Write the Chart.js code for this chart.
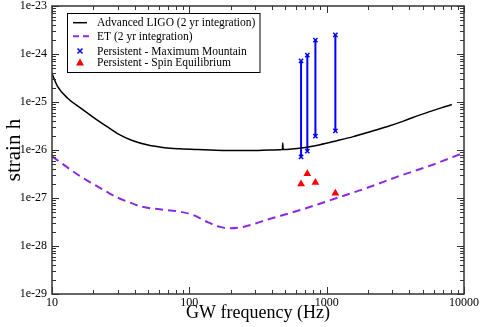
<!DOCTYPE html>
<html>
<head>
<meta charset="utf-8">
<script src="https://cdn.jsdelivr.net/npm/chart.js@4.4.0/dist/chart.umd.min.js"></script>
<style>
    html, body { margin: 0; padding: 0; background: #ffffff; }
    #strainChart { display: block; }
</style>
</head>
<body>
<canvas id="strainChart" width="480" height="327"></canvas>
<script>
// Advanced LIGO sensitivity curve (2 yr integration)
const ligoFreq = [10, 11, 13, 16, 20, 25, 30, 38, 50, 66, 85, 115, 177, 300, 387, 476, 479, 482, 677, 895, 1184, 1564, 2070, 2740, 3625, 4790, 8150];
const ligoStrain = [3.9e-25, 2.1e-25, 1.2e-25, 7.6e-26, 4.8e-26, 3.1e-26, 2.2e-26, 1.6e-26, 1.27e-26, 1.12e-26, 1.06e-26, 1.02e-26, 9.8e-27, 9.8e-27, 1.0e-26, 1.02e-26, 1.4e-26, 1.03e-26, 1.12e-26, 1.29e-26, 1.56e-26, 1.9e-26, 2.4e-26, 3.06e-26, 4.0e-26, 5.4e-26, 8.9e-26];

// Einstein Telescope sensitivity curve (2 yr integration)
const etFreq = [10, 13, 16, 20, 25, 30, 38, 44, 61, 85, 107, 134, 167, 198, 247, 366, 716, 1184, 2000, 3240, 6000, 10000];
const etStrain = [7.4e-27, 4.3e-27, 2.85e-27, 1.95e-27, 1.35e-27, 1.02e-27, 7.8e-28, 6.7e-28, 5.8e-28, 5.2e-28, 4.4e-28, 3.2e-28, 2.5e-28, 2.34e-28, 2.5e-28, 3.5e-28, 6.2e-28, 1.0e-27, 1.65e-27, 2.75e-27, 5.0e-27, 8.8e-27];

// Persistent sources
const pulsarFreq = [651, 723, 828, 1157];
const mountainUpper = [7.2e-25, 9.5e-25, 1.95e-24, 2.5e-24];
const mountainLower = [7.2e-27, 9.5e-27, 1.95e-26, 2.5e-26];
const spinEquilibrium = [1.95e-27, 3.2e-27, 2.1e-27, 1.25e-27];

// Axis labels
const xTickLabels = ['10', '100', '1000', '10000'];
const yTickLabels = ['1e-29', '1e-28', '1e-27', '1e-26', '1e-25', '1e-24', '1e-23'];
const legendLabels = ['Advanced LIGO (2 yr integration)', 'ET (2 yr integration)', 'Persistent - Maximum Mountain', 'Persistent - Spin Equilibrium'];

const serif = "'Liberation Serif', 'Times New Roman', serif";

function toPoints(xs, ys) {
    return xs.map((x, i) => ({ x: x, y: ys[i] }));
}

// ticks at 1..9 x 10^n for a log axis
function logTicks(min, max) {
    const ticks = [];
    for (let e = Math.round(Math.log10(min)); e < Math.round(Math.log10(max)); e++) {
        for (let m = 1; m < 10; m++) {
            ticks.push({ value: m * Math.pow(10, e) });
        }
    }
    ticks.push({ value: max });
    return ticks;
}

function isMajor(v) {
    const l = Math.log10(v);
    return Math.abs(l - Math.round(l)) < 1e-6;
}

function labelFor(value, labels) {
    const hit = labels.find(l => Math.abs(Math.log10(Number(l)) - Math.log10(value)) < 1e-6);
    return hit === undefined ? '' : hit;
}

// frame, inward ticks on all four sides and the boxed legend
const framePlugin = {
    id: 'frame',
    afterDraw(chart) {
        const ctx = chart.ctx;
        const a = chart.chartArea;
        const xs = chart.scales.x;
        const ys = chart.scales.y;
        ctx.save();
        ctx.strokeStyle = '#333333';
        ctx.lineWidth = 1.5;
        ctx.strokeRect(a.left, a.top, a.right - a.left, a.bottom - a.top);

        ctx.lineWidth = 1;
        ctx.beginPath();
        xs.ticks.forEach(t => {
            const len = isMajor(t.value) ? 7 : 4;
            const p = Math.round(xs.getPixelForValue(t.value)) + 0.5;
            ctx.moveTo(p, a.bottom); ctx.lineTo(p, a.bottom - len);
            ctx.moveTo(p, a.top); ctx.lineTo(p, a.top + len);
        });
        ys.ticks.forEach(t => {
            const len = isMajor(t.value) ? 7 : 4;
            const p = Math.round(ys.getPixelForValue(t.value)) + 0.5;
            ctx.moveTo(a.left, p); ctx.lineTo(a.left + len, p);
            ctx.moveTo(a.right, p); ctx.lineTo(a.right - len, p);
        });
        ctx.stroke();

        // legend box
        const bx = 67.5, by = 13.5, bw = 192.5, bh = 59;
        ctx.fillStyle = '#ffffff';
        ctx.fillRect(bx, by, bw, bh);
        ctx.strokeStyle = '#000000';
        ctx.lineWidth = 1;
        ctx.strokeRect(bx, by, bw, bh);

        const rows = [22.7, 36.3, 51, 62.5];
        const sx0 = 73, sx1 = 87, mx = 80;

        ctx.lineWidth = 1.5;
        ctx.strokeStyle = '#000000';
        ctx.beginPath(); ctx.moveTo(sx0, rows[0]); ctx.lineTo(sx1, rows[0]); ctx.stroke();

        ctx.lineWidth = 2;
        ctx.strokeStyle = '#8a2be2';
        ctx.setLineDash([6, 4]);
        ctx.beginPath(); ctx.moveTo(sx0, rows[1]); ctx.lineTo(sx1 + 2, rows[1]); ctx.stroke();
        ctx.setLineDash([]);

        ctx.lineWidth = 1.5;
        ctx.strokeStyle = '#0000ff';
        ctx.beginPath();
        ctx.moveTo(mx - 2.5, rows[2] - 2.5); ctx.lineTo(mx + 2.5, rows[2] + 2.5);
        ctx.moveTo(mx + 2.5, rows[2] - 2.5); ctx.lineTo(mx - 2.5, rows[2] + 2.5);
        ctx.stroke();

        ctx.fillStyle = '#ff0000';
        ctx.beginPath();
        ctx.moveTo(mx, rows[3] - 4); ctx.lineTo(mx + 4, rows[3] + 3); ctx.lineTo(mx - 4, rows[3] + 3);
        ctx.closePath(); ctx.fill();

        ctx.fillStyle = '#000000';
        ctx.font = '11.5px ' + serif;
        ctx.textBaseline = 'middle';
        ctx.textAlign = 'left';
        legendLabels.forEach((txt, i) => ctx.fillText(txt, 97, rows[i] + 0.5));
        ctx.restore();
    }
};

document.addEventListener("DOMContentLoaded", function () {

    const datasets = [
        {
            label: legendLabels[0],
            data: toPoints(ligoFreq, ligoStrain),
            borderColor: '#000000',
            borderWidth: 1.5,
            pointRadius: 0,
            showLine: true,
            cubicInterpolationMode: 'monotone',
            fill: false
        },
        {
            label: legendLabels[1],
            data: toPoints(etFreq, etStrain),
            borderColor: '#8a2be2',
            borderWidth: 2,
            borderDash: [8, 5],
            pointRadius: 0,
            showLine: true,
            cubicInterpolationMode: 'monotone',
            fill: false
        }
    ];

    // one vertical bar per pulsar, upper and lower mountain limits
    pulsarFreq.forEach((f, i) => {
        datasets.push({
            label: legendLabels[2],
            data: [{ x: f, y: mountainLower[i] }, { x: f, y: mountainUpper[i] }],
            borderColor: '#0000ff',
            backgroundColor: '#0000ff',
            borderWidth: 2,
            showLine: true,
            pointStyle: 'crossRot',
            pointRadius: 3,
            pointBorderWidth: 1.5,
            fill: false
        });
    });

    datasets.push({
        label: legendLabels[3],
        data: toPoints(pulsarFreq, spinEquilibrium),
        showLine: false,
        pointStyle: 'triangle',
        pointRadius: 4.5,
        backgroundColor: '#ff0000',
        borderColor: '#ff0000',
        borderWidth: 0
    });

    new Chart(document.getElementById('strainChart').getContext('2d'), {
        type: 'scatter',
        data: { datasets: datasets },
        options: {
            responsive: false,
            animation: false,
            layout: { padding: { top: 6, right: 16, left: 0, bottom: 0 } },
            plugins: {
                legend: { display: false },
                tooltip: { enabled: false }
            },
            scales: {
                x: {
                    type: 'logarithmic',
                    min: 10,
                    max: 10000,
                    afterBuildTicks: scale => { scale.ticks = logTicks(10, 10000); },
                    afterFit: scale => {
                        scale.height = 33;
                        scale.paddingLeft = 0;
                        scale.paddingRight = 0;
                    },
                    grid: { display: false, drawTicks: false },
                    border: { display: false },
                    ticks: {
                        autoSkip: false,
                        maxRotation: 0,
                        padding: 3,
                        color: '#000000',
                        font: { family: serif, size: 12, lineHeight: 1 },
                        callback: value => labelFor(value, xTickLabels)
                    },
                    title: {
                        display: true,
                        text: 'GW frequency (Hz)',
                        color: '#000000',
                        font: { family: serif, size: 18 },
                        padding: { top: 0, bottom: 3 }
                    }
                },
                y: {
                    type: 'logarithmic',
                    min: 1e-29,
                    max: 1e-23,
                    afterBuildTicks: scale => { scale.ticks = logTicks(1e-29, 1e-23); },
                    afterFit: scale => {
                        scale.width = 52;
                        scale.paddingTop = 0;
                        scale.paddingBottom = 0;
                    },
                    grid: { display: false, drawTicks: false },
                    border: { display: false },
                    ticks: {
                        autoSkip: false,
                        padding: 5,
                        color: '#000000',
                        font: { family: serif, size: 12, lineHeight: 1 },
                        callback: value => labelFor(value, yTickLabels)
                    },
                    title: {
                        display: true,
                        text: 'strain h',
                        color: '#000000',
                        font: { family: serif, size: 21 },
                        padding: { top: 2, bottom: 0 }
                    }
                }
            }
        },
        plugins: [framePlugin]
    });
});
</script>
</body>
</html>
